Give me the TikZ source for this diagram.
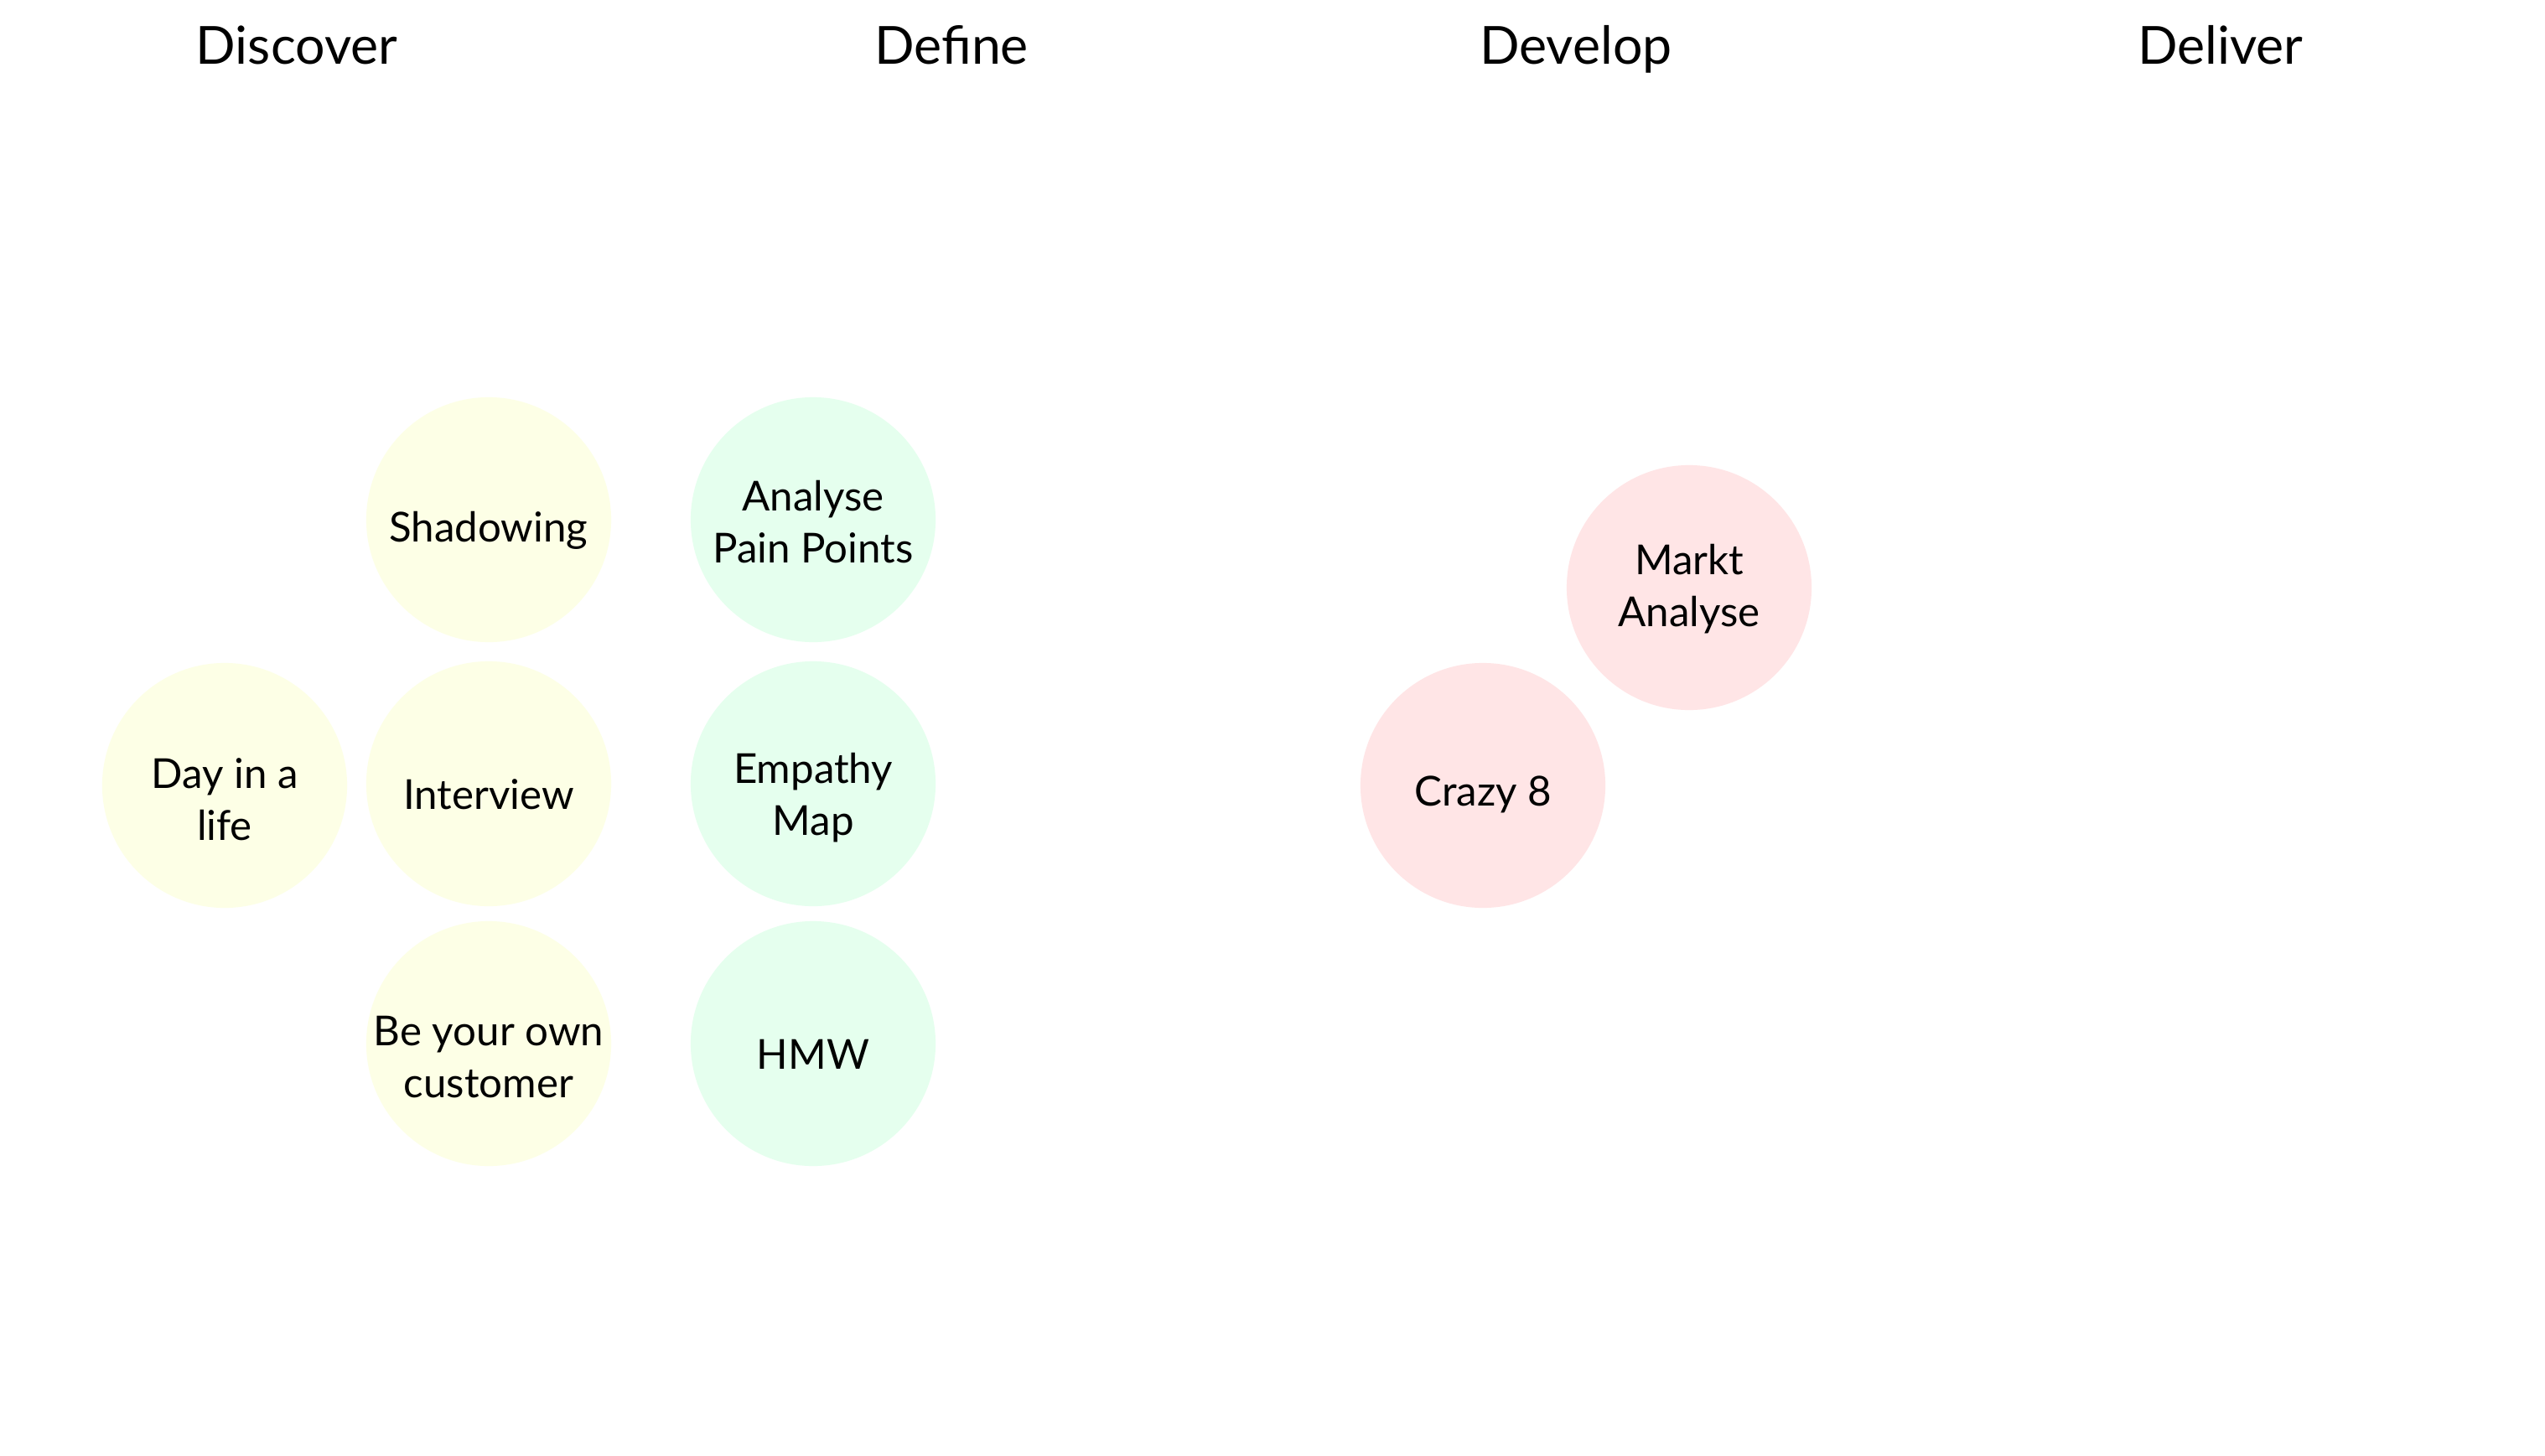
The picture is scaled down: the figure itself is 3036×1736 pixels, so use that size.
\documentclass[tikz,border=0pt]{standalone}
\usepackage{fontspec}
\setmainfont{Lato}
\definecolor{cyel}{RGB}{253,255,230}
\definecolor{cgrn}{RGB}{229,255,238}
\definecolor{cpnk}{RGB}{255,229,230}
\begin{document}
\begin{tikzpicture}[x=0.01cm,y=-0.01cm,
  phase/.style={font=\fontsize{17.8}{21}\selectfont, text=black, anchor=base},
  bubble/.style={circle, minimum size=2.92cm, inner sep=0pt},
  txt/.style={align=center, font=\fontsize{14}{17.6}\selectfont, text=black}]
\useasboundingbox (0,0) rectangle (3036,1736);
\fill[white] (0,0) rectangle (3036,1736);
\node[phase] (discover) at (354,77) {Discover};
\node[phase] (define) at (1135,77) {Define};
\node[phase] (develop) at (1880,77) {Develop};
\node[phase] (deliver) at (2649,77) {Deliver};
\node[bubble, fill=cyel, label={[txt, yshift=-0.13cm]center:Shadowing}] (shadow) at (583,620) {};
\node[bubble, fill=cyel, label={[txt, yshift=-0.13cm]center:Interview}] (interview) at (583,935) {};
\node[bubble, fill=cyel, label={[txt, yshift=-0.16cm]center:Be your own\\customer}] (ownc) at (583,1245) {};
\node[bubble, fill=cyel, label={[txt, yshift=-0.17cm]center:Day in a\\life}] (day) at (268,937) {};
\node[bubble, fill=cgrn, label={[txt, yshift=-0.03cm]center:Analyse\\Pain Points}] (pain) at (970,620) {};
\node[bubble, fill=cgrn, label={[txt, yshift=-0.17cm]center:Empathy\\Map}] (empathy) at (970,935) {};
\node[bubble, fill=cgrn, label={[txt, yshift=-0.13cm]center:HMW}] (hmw) at (970,1245) {};
\node[bubble, fill=cpnk, label={[txt, yshift=-0.02cm]center:Markt\\Analyse}] (markt) at (2015,701) {};
\node[bubble, fill=cpnk, label={[txt, yshift=-0.11cm]center:Crazy 8}] (crazy) at (1769,937) {};
\end{tikzpicture}
\end{document}
